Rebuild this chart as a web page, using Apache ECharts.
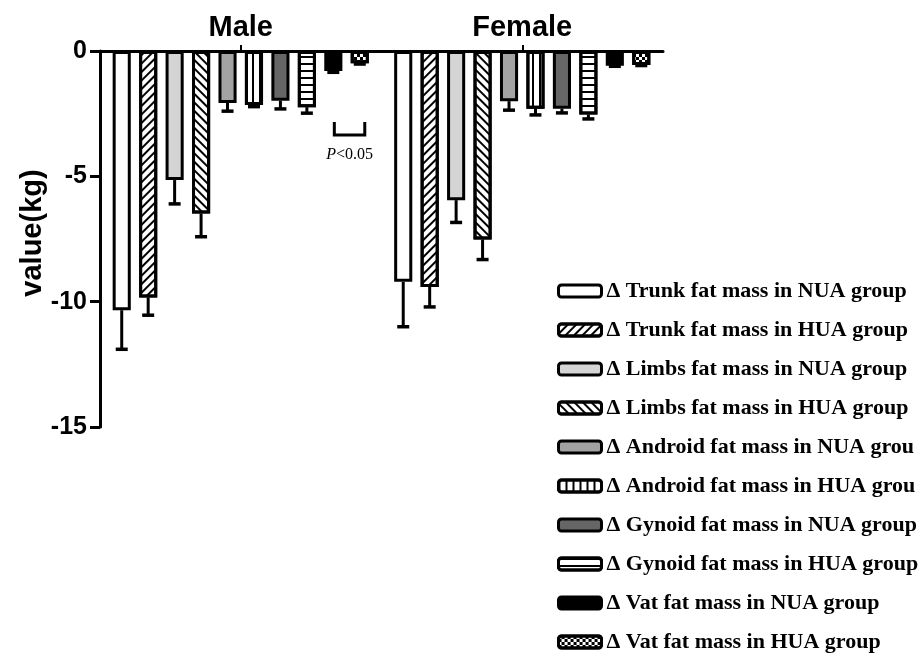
<!DOCTYPE html>
<html><head><meta charset="utf-8">
<script src="https://cdn.jsdelivr.net/npm/echarts@6/dist/echarts.min.js"></script>
<style>html,body{margin:0;padding:0;background:#fff}#c{width:921px;height:654px}</style>
</head><body><div id="c"></div>
<script>
const categories = ['Male', 'Female'];
const seriesNames = [
  'Δ Trunk fat mass in NUA group',
  'Δ Trunk fat mass in HUA group',
  'Δ Limbs fat mass in NUA group',
  'Δ Limbs fat mass in HUA group',
  'Δ Android fat mass in NUA grou',
  'Δ Android fat mass in HUA grou',
  'Δ Gynoid fat mass in NUA group',
  'Δ Gynoid fat mass in HUA group',
  'Δ Vat fat mass in NUA group',
  'Δ Vat fat mass in HUA group'
];
const maleValues   = [-10.34, -9.83, -5.15, -6.48, -2.07, -2.15, -1.98, -2.24, -0.80, -0.49];
const maleErrors   = [1.56, 0.71, 0.95, 0.93, 0.33, 0.07, 0.33, 0.24, 0.05, 0.03];
const femaleValues = [-9.21, -9.41, -5.95, -7.52, -2.00, -2.30, -2.30, -2.53, -0.59, -0.56];
const femaleErrors = [1.79, 0.80, 0.89, 0.80, 0.36, 0.25, 0.17, 0.18, 0.02, 0.02];
const yTicks = [0, -5, -10, -15];

const CAT_GAP = 0.09, BAR_GAP = 0.46, N = seriesNames.length;
const fills = ['#ffffff','#ffffff','#d4d4d4','#ffffff','#a3a3a3','#ffffff','#666666','#ffffff','#000000','#ffffff'];
const decals = [
  null,
  {symbol:'rect', symbolSize:1, dashArrayX:[1,0], dashArrayY:[2,4], rotation: -Math.PI/4, color:'#000'},
  null,
  {symbol:'rect', symbolSize:1, dashArrayX:[1,0], dashArrayY:[2,4], rotation: Math.PI/4, color:'#000'},
  null,
  {symbol:'rect', symbolSize:1, symbolKeepAspect:false, dashArrayX:[2,5], dashArrayY:[1,0], rotation: 0, color:'#000'},
  null,
  {symbol:'rect', symbolSize:1, dashArrayX:[1,0], dashArrayY:[2,5], rotation: 0, color:'#000'},
  null,
  {symbol:'rect', symbolSize:1, dashArrayX:[[3,3],[0,3,3,0]], dashArrayY:[3,0], rotation: 0, color:'#000'}
];

const chart = echarts.init(document.getElementById('c'), null, {renderer:'canvas'});

const barSeries = seriesNames.map((name, i) => {
  const itemStyle = {color: fills[i], borderColor:'#000', borderWidth:3};
  if (decals[i]) itemStyle.decal = decals[i];
  return {
    name, type:'bar', data:[maleValues[i], femaleValues[i]],
    barCategoryGap: (CAT_GAP*100)+'%', barGap: (BAR_GAP*100)+'%',
    itemStyle, emphasis:{disabled:true}, z:2
  };
});

const errData = [];
seriesNames.forEach((n, i) => {
  errData.push([0, maleValues[i], maleErrors[i], i]);
  errData.push([1, femaleValues[i], femaleErrors[i], i]);
});

function barCenter(api, cat, si) {
  const band = api.size([1,0])[0];
  const remained = band*(1-CAT_GAP);
  const bw = remained/(N + (N-1)*BAR_GAP);
  return api.coord([cat, 0])[0] - remained/2 + bw/2 + si*bw*(1+BAR_GAP);
}

const errSeries = {
  type:'custom', name:'err', data: errData, z:3,
  encode:{x:0, y:1},
  renderItem(params, api) {
    const cat = api.value(0), val = api.value(1), err = api.value(2), si = api.value(3);
    const cx = barCenter(api, cat, si);
    const y1 = api.coord([cat, val])[1];
    const y2 = api.coord([cat, val-err])[1];
    return {type:'group', children:[
      {type:'line', shape:{x1:cx, y1:y1, x2:cx, y2:y2}, style:{stroke:'#000', lineWidth:3}},
      {type:'line', shape:{x1:cx-6, y1:y2, x2:cx+6, y2:y2}, style:{stroke:'#000', lineWidth:3.5}}
    ]};
  }
};

// significance bracket between Vat bars of Male group
const sigData = [[0, -2.83, -3.35, 8, 9, -4.15]];
const sigSeries = {
  type:'custom', name:'sig', data: sigData, z:4,
  encode:{x:0, y:1},
  renderItem(params, api) {
    const cat = api.value(0);
    const x1 = barCenter(api, cat, api.value(3)) + 1;
    const x2 = barCenter(api, cat, api.value(4)) + 5;
    const yt = api.coord([cat, api.value(1)])[1];
    const yb = api.coord([cat, api.value(2)])[1];
    const yTxt = api.coord([cat, api.value(5)])[1];
    return {type:'group', children:[
      {type:'polyline', shape:{points:[[x1,yt],[x1,yb],[x2,yb],[x2,yt]]}, style:{stroke:'#000', lineWidth:3, fill:null}},
      {type:'text', x:(x1+x2)/2, y:yTxt, style:{
        text:'{i|P}{n|<0.05}', align:'center', verticalAlign:'middle',
        rich:{
          i:{fontFamily:'Liberation Serif', fontStyle:'italic', fontSize:16, fill:'#000'},
          n:{fontFamily:'Liberation Serif', fontSize:16, fill:'#000'}
        }
      }}
    ]};
  }
};

chart.setOption({
  animation:false,
  backgroundColor:'#fff',
  grid:{left:100, right:258, top:51, bottom:227, containLabel:false},
  legend:{
    data: seriesNames, orient:'vertical', left:557, top:280, height:374, padding:0,
    itemWidth:43, itemHeight:12, itemGap:17, icon:'roundRect',
    itemStyle:{borderWidth:3, borderColor:'#000'},
    textStyle:{fontFamily:'Liberation Serif', fontWeight:'bold', fontSize:22, color:'#000', lineHeight:22},
    selectedMode:false
  },
  xAxis:{
    type:'category', data:categories, position:'top',
    axisLine:{lineStyle:{color:'#000', width:3}},
    axisTick:{show:true, alignWithLabel:true, length:6, lineStyle:{color:'#000', width:2}},
    axisLabel:{fontFamily:'Liberation Sans', fontWeight:'bold', fontSize:29, color:'#000', margin:9},
    splitLine:{show:false}
  },
  yAxis:{
    type:'value', min: yTicks[yTicks.length-1], max: yTicks[0], interval:5,
    name:'value(kg)', nameLocation:'middle', nameGap:53, nameRotate:90, nameMoveOverlap:false,
    nameTextStyle:{fontFamily:'Liberation Sans', fontWeight:'bold', fontSize:29, color:'#000', padding:[0,0,0,12]},
    axisLine:{show:true, lineStyle:{color:'#000', width:3}},
    axisTick:{show:true, length:10, lineStyle:{color:'#000', width:3}},
    axisLabel:{fontFamily:'Liberation Sans', fontWeight:'bold', fontSize:25, color:'#000', margin:13},
    splitLine:{show:false}
  },
  series: [...barSeries, errSeries, sigSeries]
});
</script></body></html>
